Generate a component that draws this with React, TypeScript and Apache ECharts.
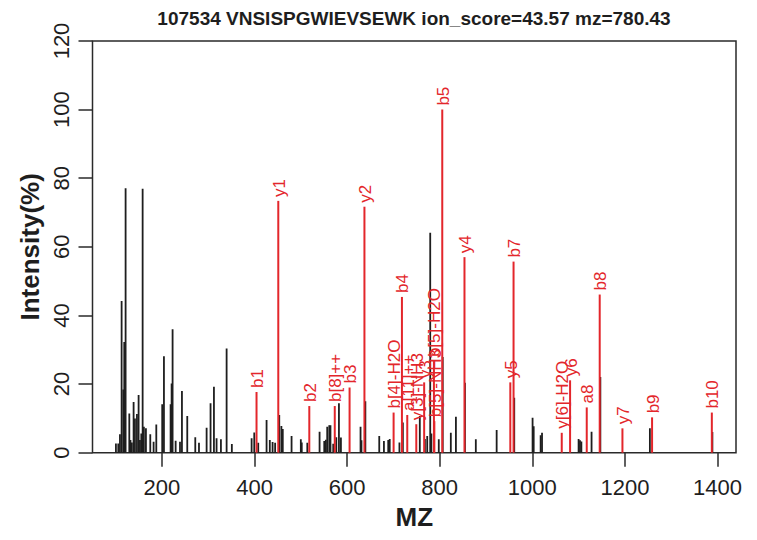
import React, { useEffect, useRef } from "react";
import * as echarts from "echarts";

const TITLE = "107534 VNSISPGWIEVSEWK ion_score=43.57 mz=780.43";
const X_NAME = "MZ";
const Y_NAME = "Intensity(%)";
const X_TICKS = [200, 400, 600, 800, 1000, 1200, 1400];
const Y_TICKS = [0, 20, 40, 60, 80, 100, 120];

// unmatched (black) peaks
const blackMz = [
  100.6, 105.7, 109.3, 112.9, 116.5, 118.6, 121.5, 129.5, 132.0, 135.0, 138.8, 141.7, 146.0, 149.6,
  152.5, 155.4, 158.3, 161.0, 165.4, 174.8, 182.0, 187.8, 200.6, 204.3, 218.7, 220.9, 223.0, 229.6,
  239.0, 243.2, 254.7, 272.0, 280.0, 296.5, 305.0, 312.3, 318.0, 327.4, 339.7, 351.0, 393.7, 399.4,
  408.0, 426.0, 433.0, 439.0, 444.5, 453.4, 458.0, 461.0, 480.0, 500.0, 502.0, 514.0, 540.5, 550.6,
  554.0, 557.0, 561.4, 564.0, 570.0, 576.6, 582.3, 586.6, 629.0, 631.0, 639.4, 669.4, 679.5, 688.8,
  692.0, 713.0, 720.4, 757.0, 768.0, 773.0, 779.5, 782.0, 798.0, 806.5, 824.0, 835.0, 854.5, 878.0,
  923.0, 961.0, 1000.6, 1003.0, 1018.0, 1021.0, 1100.0, 1103.0, 1106.0, 1128.0, 1147.0, 1254.0, 1389.0,
];
const blackInt = [
  2.7, 2.7, 5.4, 44.2, 18.4, 32.3, 77.1, 11.4, 3.7, 3.0, 14.8, 10.0, 11.3, 16.8,
  3.7, 5.6, 76.9, 7.6, 7.1, 5.4, 3.2, 8.2, 14.1, 28.1, 14.1, 20.2, 36.0, 3.5,
  3.2, 18.0, 10.7, 4.5, 2.9, 7.3, 14.4, 19.2, 4.2, 3.9, 30.4, 2.5, 4.2, 5.9,
  2.9, 9.5, 3.7, 3.1, 2.9, 11.0, 7.8, 6.9, 4.9, 3.9, 3.0, 2.9, 6.1, 3.4,
  3.8, 7.6, 8.0, 8.0, 2.6, 4.5, 14.4, 4.4, 7.6, 3.6, 15.0, 4.9, 3.4, 3.7,
  4.0, 3.0, 8.8, 10.7, 4.0, 4.9, 64.1, 5.6, 3.9, 27.9, 5.8, 10.5, 20.4, 3.9,
  6.6, 16.0, 10.2, 7.7, 5.1, 5.8, 4.0, 3.6, 3.3, 6.1, 22.1, 7.1, 6.0,
];

// matched fragment ions (red)
const ionLabels = [
  "b1", "y1", "b2", "b[8]++", "b3", "y2", "b[4]-H2O", "b4", "a[11]++", "y[3]-NH3", "y3",
  "b[5]-H2O", "b[5]-NH3", "b5", "y4", "y5", "b7", "y[6]-H2O", "y6", "a8", "b8", "y7", "b9", "b10",
];
const ionMz = [
  404.3, 451.3, 518.3, 573.3, 605.3, 637.4, 700.4, 718.4, 729.9, 749.4, 766.4,
  787.5, 788.4, 805.5, 853.5, 952.5, 959.5, 1063.6, 1081.6, 1117.6, 1145.6, 1194.7, 1258.7, 1387.8,
];
const ionInt = [
  17.7, 73.4, 13.6, 13.6, 19.0, 71.7, 11.7, 45.4, 11.0, 8.3, 20.5,
  26.7, 9.2, 100.0, 57.0, 20.5, 55.7, 5.8, 21.1, 13.2, 46.1, 7.1, 10.3, 11.7,
];

const RED = "#e3262b";
const INK = "#1e1e1e";
const FONT = "'Liberation Sans', Arial, Helvetica, sans-serif";

export default function App() {
  const ref = useRef<HTMLDivElement>(null);
  useEffect(() => {
    const chart = echarts.init(ref.current as HTMLDivElement, null, { renderer: "svg" });
    const option: any = {
      animation: false,
      backgroundColor: "#ffffff",
      textStyle: { fontFamily: FONT },
      grid: {
        left: 92.5,
        right: 21,
        top: 41,
        bottom: 87.3,
        show: true,
        borderColor: "#2a2a2a",
        borderWidth: 1.5,
        backgroundColor: "transparent",
      },
      graphic: [
        {
          type: "text",
          x: 414,
          y: 18,
          style: {
            text: TITLE,
            font: `bold 19px ${FONT}`,
            fill: INK,
            align: "center",
            verticalAlign: "middle",
          },
        },
      ],
      xAxis: {
        type: "value",
        min: 50,
        max: 1440,
        name: X_NAME,
        nameLocation: "middle",
        nameGap: 50,
        nameTextStyle: { fontSize: 26, fontWeight: "bold", color: INK, fontFamily: FONT },
        axisLine: { show: false },
        axisTick: {
          show: true,
          inside: false,
          length: 14,
          customValues: X_TICKS,
          lineStyle: { color: "#2a2a2a", width: 1.5 },
        },
        axisLabel: {
          customValues: X_TICKS,
          fontSize: 22,
          color: INK,
          margin: 24,
          fontFamily: FONT,
          formatter: (v: number) => String(v),
        },
        splitLine: { show: false },
      },
      yAxis: {
        type: "value",
        min: 0,
        max: 120,
        interval: 20,
        name: Y_NAME,
        nameLocation: "middle",
        nameGap: 48,
        nameTextStyle: { fontSize: 26, fontWeight: "bold", color: INK, fontFamily: FONT },
        axisLine: { show: false },
        axisTick: { show: true, length: 14, lineStyle: { color: "#2a2a2a", width: 1.5 } },
        axisLabel: {
          rotate: 90,
          fontSize: 22,
          color: INK,
          margin: 20,
          fontFamily: FONT,
          formatter: (v: number) => (Y_TICKS.includes(v) ? String(v) : ""),
        },
        splitLine: { show: false },
      },
      series: [
        {
          type: "custom",
          silent: true,
          clip: true,
          data: blackMz.map((m, i) => [m, blackInt[i]]),
          renderItem: (params: any, api: any) => {
            const p0 = api.coord([api.value(0), 0]);
            const p1 = api.coord([api.value(0), api.value(1)]);
            return {
              type: "line",
              shape: { x1: p0[0], y1: p0[1], x2: p1[0], y2: p1[1] },
              style: { stroke: INK, lineWidth: 1.8 },
            };
          },
        },
        {
          type: "custom",
          silent: true,
          clip: false,
          data: ionMz.map((m, i) => [m, ionInt[i]]),
          renderItem: (params: any, api: any) => {
            const p0 = api.coord([api.value(0), 0]);
            const p1 = api.coord([api.value(0), api.value(1)]);
            return {
              type: "group",
              children: [
                {
                  type: "line",
                  shape: { x1: p0[0], y1: p0[1], x2: p1[0], y2: p1[1] },
                  style: { stroke: RED, lineWidth: 2 },
                },
                {
                  type: "text",
                  x: p1[0] + 1,
                  y: p1[1] - 4,
                  rotation: Math.PI / 2,
                  style: {
                    text: ionLabels[params.dataIndex],
                    font: `17px ${FONT}`,
                    fill: RED,
                    align: "left",
                    verticalAlign: "middle",
                  },
                },
              ],
            };
          },
        },
      ],
    };
    chart.setOption(option);
    return () => chart.dispose();
  }, []);
  return (
    <div
      ref={ref}
      style={{ position: "absolute", left: 0, top: 0, width: 757, height: 540, background: "#fff" }}
    />
  );
}
